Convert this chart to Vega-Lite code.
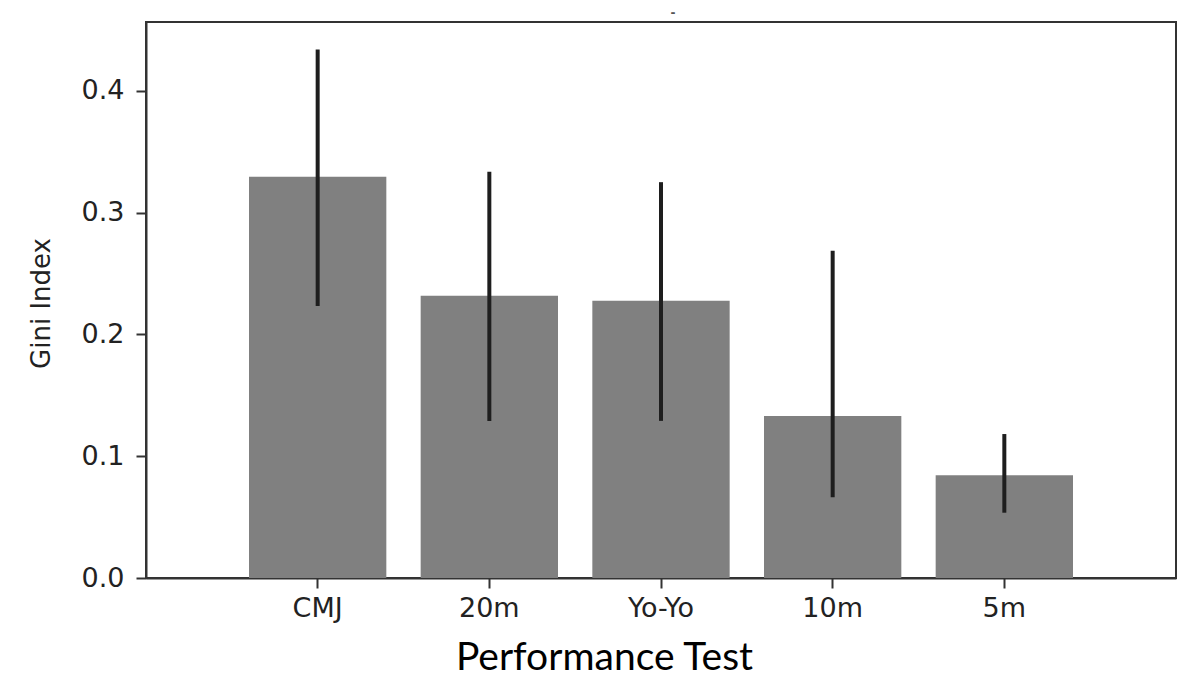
{
  "$schema": "https://vega.github.io/schema/vega-lite/v6.json",
  "width": 1030,
  "height": 556,
  "autosize": "none",
  "padding": {"left": 146, "top": 22, "right": 8, "bottom": 99},
  "background": "white",
  "title": {"text": "-", "fontSize": 12, "font": "DejaVu Sans", "color": "#555", "anchor": "middle", "offset": 2, "dx": 12},
  "config": {
    "view": {"stroke": "#333333", "strokeWidth": 2},
    "axis": {"domainColor": "#333333", "domainWidth": 2, "tickColor": "#333333", "tickWidth": 2, "tickSize": 10, "labelFont": "DejaVu Sans", "labelFontSize": 27, "labelColor": "#222222", "grid": false}
  },
  "data": {"values": [
    {"test": "CMJ", "gini": 0.3295, "lo": 0.2233, "hi": 0.434},
    {"test": "20m", "gini": 0.2317, "lo": 0.129, "hi": 0.3336},
    {"test": "Yo-Yo", "gini": 0.2276, "lo": 0.129, "hi": 0.325},
    {"test": "10m", "gini": 0.133, "lo": 0.0663, "hi": 0.2687},
    {"test": "5m", "gini": 0.0843, "lo": 0.0536, "hi": 0.1182}
  ]},
  "encoding": {
    "x": {"field": "test", "type": "nominal", "sort": null,
      "scale": {"paddingInner": 0.2, "paddingOuter": 0.6},
      "axis": {"title": "Performance Test", "labelAngle": 0, "labelPadding": 7,
        "titleFont": "Lato", "titleFontSize": 39, "titleFontWeight": "normal", "titleColor": "#000000",
        "titleX": 458, "titleY": 91, "titleAlign": "center", "titleBaseline": "alphabetic"}}
  },
  "layer": [
    {"mark": {"type": "bar", "color": "#808080"},
     "encoding": {"y": {"field": "gini", "type": "quantitative",
        "scale": {"domain": [0, 0.4565], "nice": false, "zero": true},
        "axis": {"title": "Gini Index", "values": [0, 0.1, 0.2, 0.3, 0.4], "format": ".1f", "labelPadding": 12,
          "titleFont": "DejaVu Sans", "titleFontSize": 26, "titleFontWeight": "normal", "titleColor": "#222222",
          "titleAngle": 270, "titleX": -105, "titleY": 281, "titleAlign": "center", "titleBaseline": "middle"}}}},
    {"mark": {"type": "rule", "color": "#1e1e1e", "strokeWidth": 4},
     "encoding": {"y": {"field": "lo", "type": "quantitative"}, "y2": {"field": "hi"}}}
  ]
}
